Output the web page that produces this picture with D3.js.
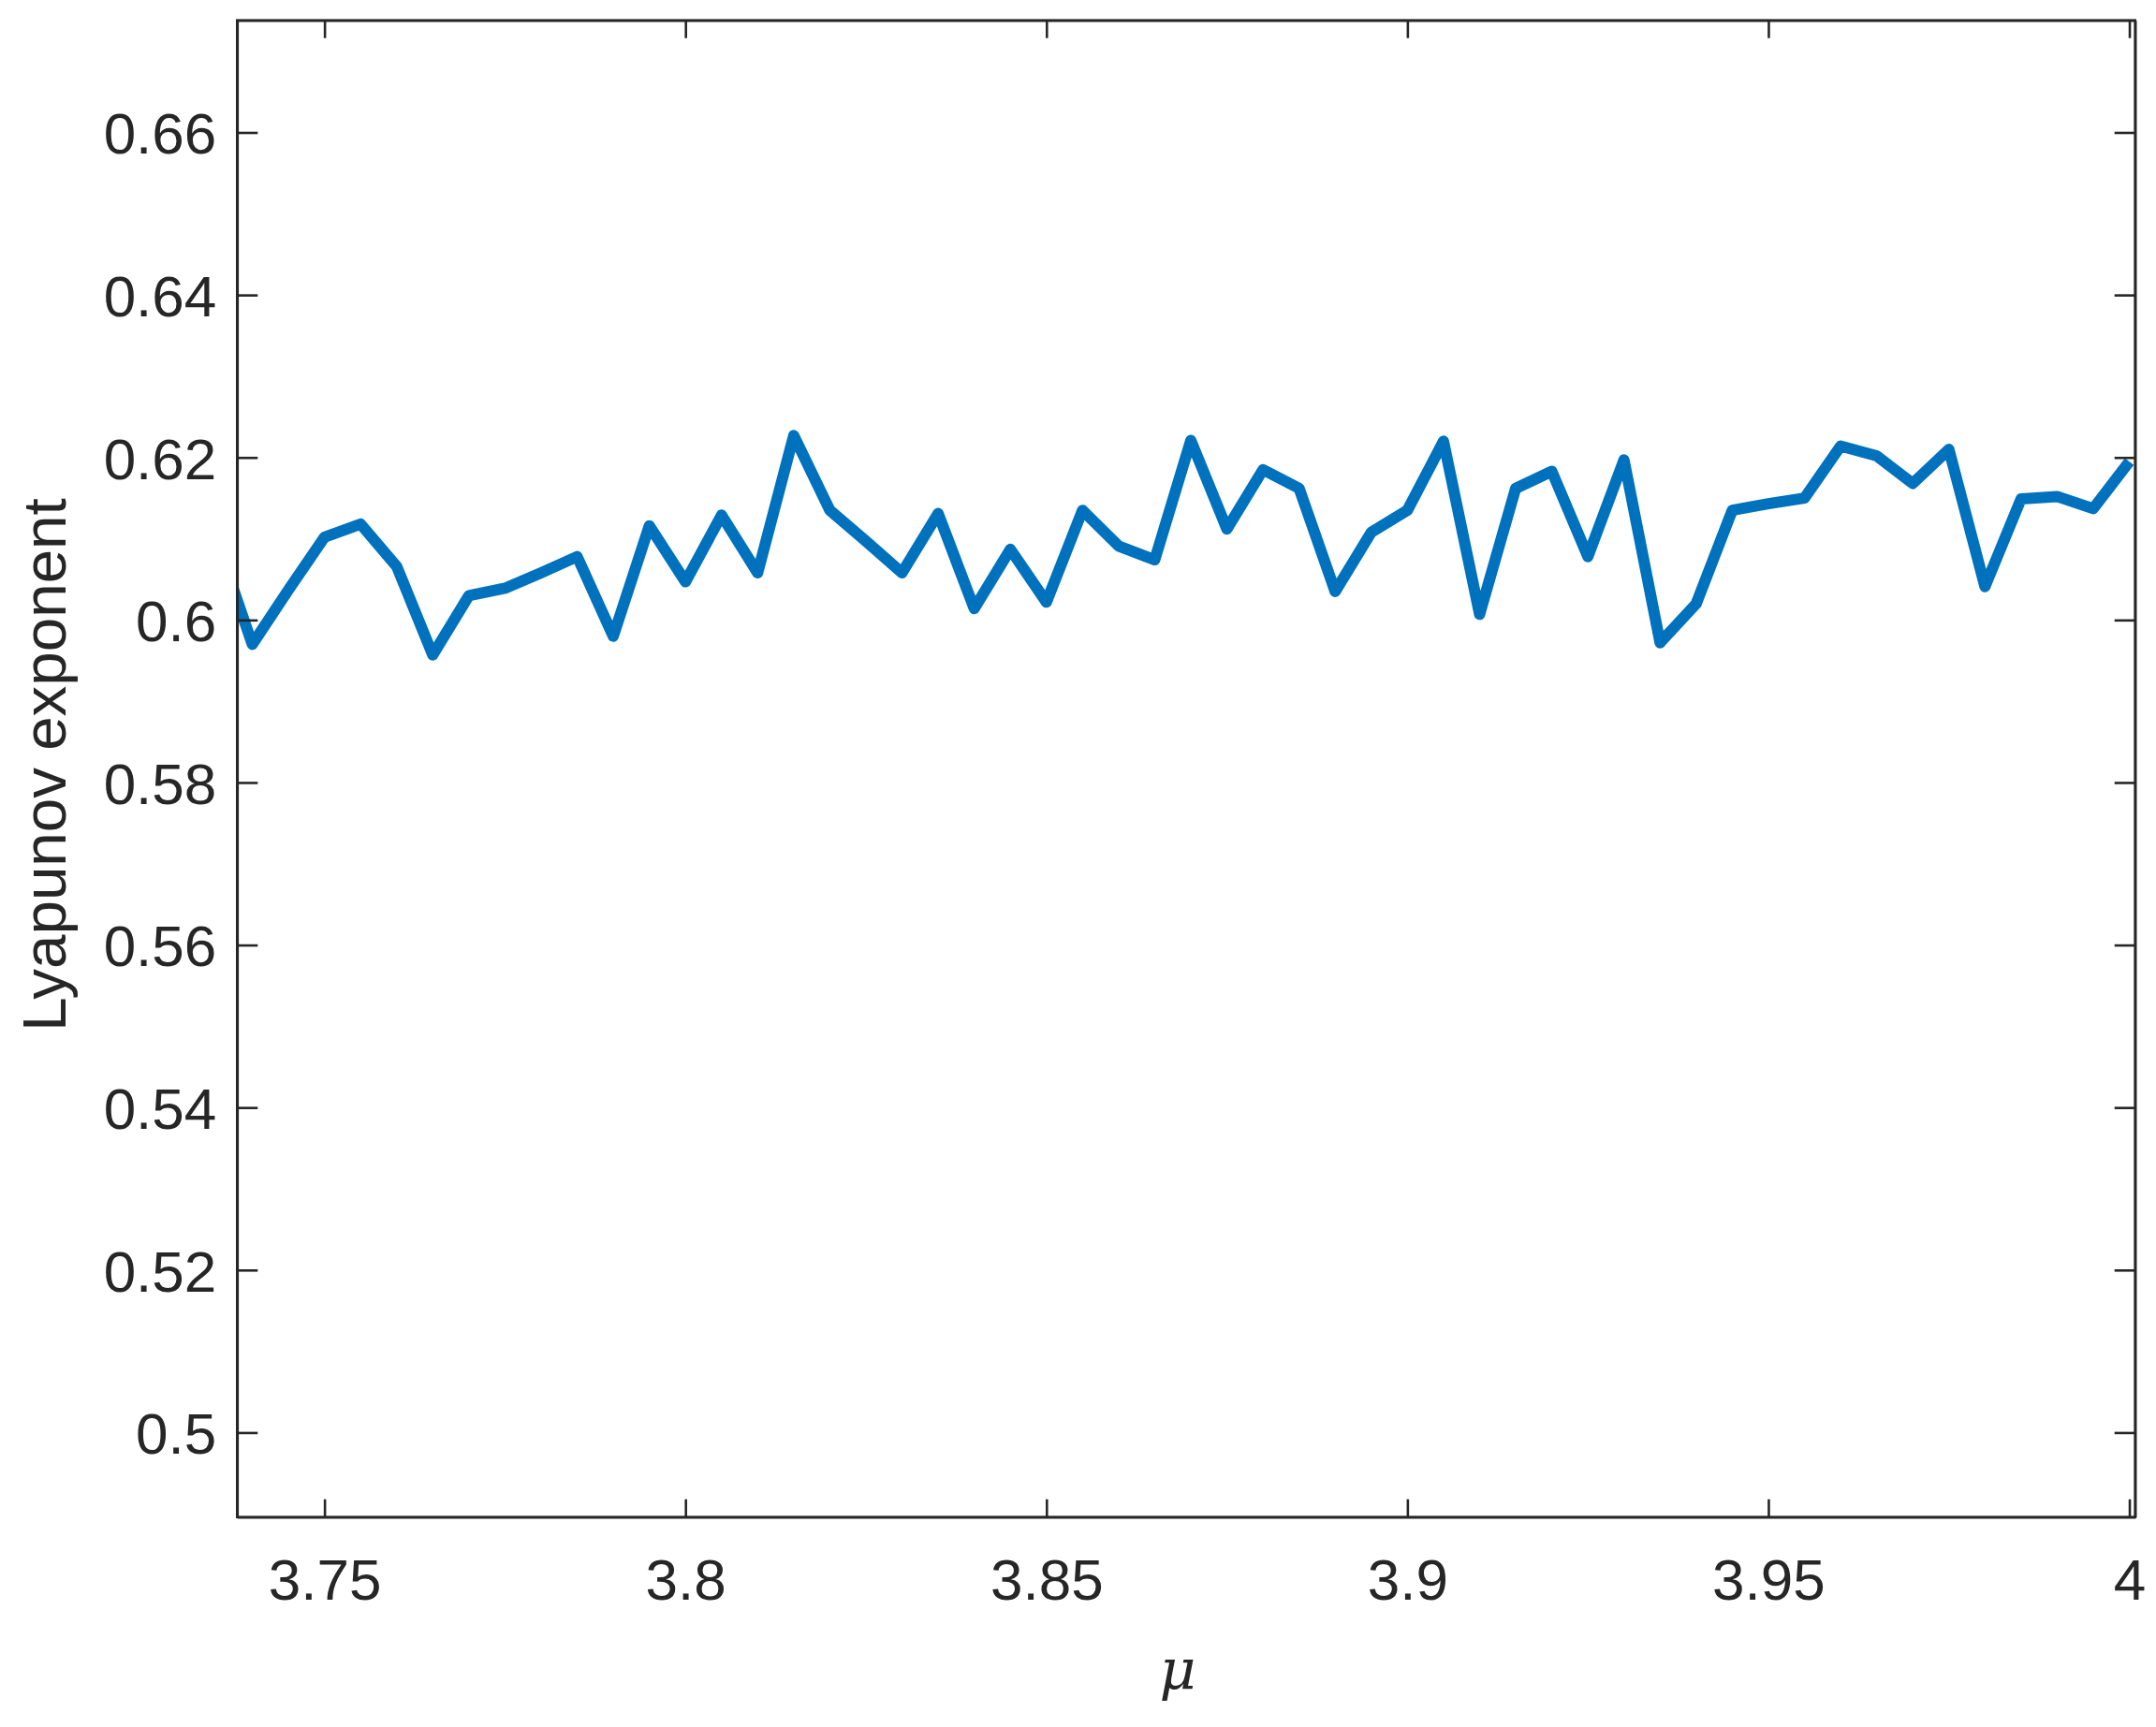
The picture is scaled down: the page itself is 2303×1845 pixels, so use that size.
<!DOCTYPE html>
<html>
<head>
<meta charset="utf-8">
<script src="https://cdn.jsdelivr.net/npm/d3@7"></script>
<style>
  html, body { margin: 0; padding: 0; background: #ffffff; }
  svg { display: block; }
</style>
</head>
<body>
<div id="chart"></div>
<script>
// ---- data ----
const muValues = [
  3.735, 3.74, 3.745, 3.75, 3.755, 3.76, 3.765, 3.77, 3.775, 3.78,
  3.785, 3.79, 3.795, 3.80, 3.805, 3.81, 3.815, 3.82, 3.825, 3.83,
  3.835, 3.84, 3.845, 3.85, 3.855, 3.86, 3.865, 3.87, 3.875, 3.88,
  3.885, 3.89, 3.895, 3.90, 3.905, 3.91, 3.915, 3.92, 3.925, 3.93,
  3.935, 3.94, 3.945, 3.95, 3.955, 3.96, 3.965, 3.97, 3.975, 3.98,
  3.985, 3.99, 3.995, 4.00
];
const lyapunovValues = [
  0.6100, 0.5970, 0.6037, 0.6102, 0.6118, 0.6066, 0.5957, 0.6030, 0.6039, 0.6058,
  0.6078, 0.5980, 0.6116, 0.6047, 0.6129, 0.6058, 0.6227, 0.6135, 0.6097, 0.6058,
  0.6131, 0.6014, 0.6087, 0.6022, 0.6135, 0.6091, 0.6074, 0.6221, 0.6112, 0.6185,
  0.6162, 0.6035, 0.6108, 0.6135, 0.6220, 0.6007, 0.6162, 0.6183, 0.6078, 0.6197,
  0.5972, 0.6020, 0.6135, 0.6143, 0.6150, 0.6214, 0.6202, 0.6168, 0.6210, 0.6041,
  0.6149, 0.6152, 0.6137, 0.6195
];
const xTickValues = [3.75, 3.8, 3.85, 3.9, 3.95, 4];
const xTickLabels = ["3.75", "3.8", "3.85", "3.9", "3.95", "4"];
const yTickValues = [0.5, 0.52, 0.54, 0.56, 0.58, 0.6, 0.62, 0.64, 0.66];
const yTickLabels = ["0.5", "0.52", "0.54", "0.56", "0.58", "0.6", "0.62", "0.64", "0.66"];
const xLimits = [3.7379, 4.0008];
const yLimits = [0.4896, 0.6738];
const xLabel = "\u03BC";
const yLabel = "Lyapunov exponent";

(function () {
// ---- layout ----
const W = 2303, H = 1845;
const pL = 253.3, pR = 2280.7, pT = 21.7, pB = 1620.7;
const axisColor = "#262626";
const lineColor = "#0072BD";
const tickFont = 62;

const svg = d3.select("#chart").append("svg")
  .attr("width", W).attr("height", H)
  .attr("viewBox", `0 0 ${W} ${H}`);

svg.append("rect").attr("width", W).attr("height", H).attr("fill", "#fff");

const x = d3.scaleLinear().domain(xLimits).range([pL, pR]);
const y = d3.scaleLinear().domain(yLimits).range([pB, pT]);

const data = muValues.map((m, i) => ({ mu: m, v: lyapunovValues[i] }));

svg.append("clipPath").attr("id", "plotclip")
  .append("rect")
  .attr("x", pL).attr("y", pT)
  .attr("width", pR - pL).attr("height", pB - pT);

// line
svg.append("path")
  .datum(data)
  .attr("clip-path", "url(#plotclip)")
  .attr("fill", "none")
  .attr("stroke", lineColor)
  .attr("stroke-width", 12)
  .attr("stroke-linejoin", "round")
  .attr("stroke-linecap", "butt")
  .attr("d", d3.line().x(d => x(d.mu)).y(d => y(d.v)));

function styleAxis(g) {
  g.selectAll("path.domain").attr("stroke", axisColor).attr("stroke-width", 2.6);
  g.selectAll(".tick line").attr("stroke", axisColor).attr("stroke-width", 2.6);
  g.selectAll(".tick text")
    .attr("fill", axisColor)
    .style("font-family", "'Liberation Sans', Arial, Helvetica, sans-serif")
    .style("font-size", tickFont + "px");
}

// bottom axis
const gx = svg.append("g").attr("transform", `translate(0,${pB})`)
  .call(d3.axisBottom(x).tickValues(xTickValues)
    .tickFormat((d, i) => xTickLabels[i])
    .tickSize(-19).tickSizeOuter(0).tickPadding(44));
styleAxis(gx);

// top axis
const gxt = svg.append("g").attr("transform", `translate(0,${pT})`)
  .call(d3.axisTop(x).tickValues(xTickValues).tickFormat(() => "")
    .tickSize(-19).tickSizeOuter(0));
styleAxis(gxt);

// left axis
const gy = svg.append("g").attr("transform", `translate(${pL},0)`)
  .call(d3.axisLeft(y).tickValues(yTickValues)
    .tickFormat((d, i) => yTickLabels[i])
    .tickSize(-22).tickSizeOuter(0).tickPadding(22));
styleAxis(gy);
gy.selectAll(".tick text").attr("dy", "0.36em");

// right axis
const gyr = svg.append("g").attr("transform", `translate(${pR},0)`)
  .call(d3.axisRight(y).tickValues(yTickValues).tickFormat(() => "")
    .tickSize(-22).tickSizeOuter(0));
styleAxis(gyr);

// box
svg.append("rect")
  .attr("x", pL).attr("y", pT)
  .attr("width", pR - pL).attr("height", pB - pT)
  .attr("fill", "none").attr("stroke", axisColor).attr("stroke-width", 2.6);

// axis labels
svg.append("text")
  .attr("x", (pL + pR) / 2 - 9)
  .attr("y", 1805)
  .attr("text-anchor", "middle")
  .attr("fill", axisColor)
  .style("font-family", "'DejaVu Serif', 'Liberation Serif', serif")
  .style("font-style", "italic")
  .style("font-size", "60px")
  .text(xLabel);

svg.append("text")
  .attr("transform", `translate(70,817) rotate(-90)`)
  .attr("text-anchor", "middle")
  .attr("fill", axisColor)
  .style("font-family", "'Liberation Sans', Arial, Helvetica, sans-serif")
  .style("font-size", "65.5px")
  .text(yLabel);
})();
</script>
</body>
</html>
